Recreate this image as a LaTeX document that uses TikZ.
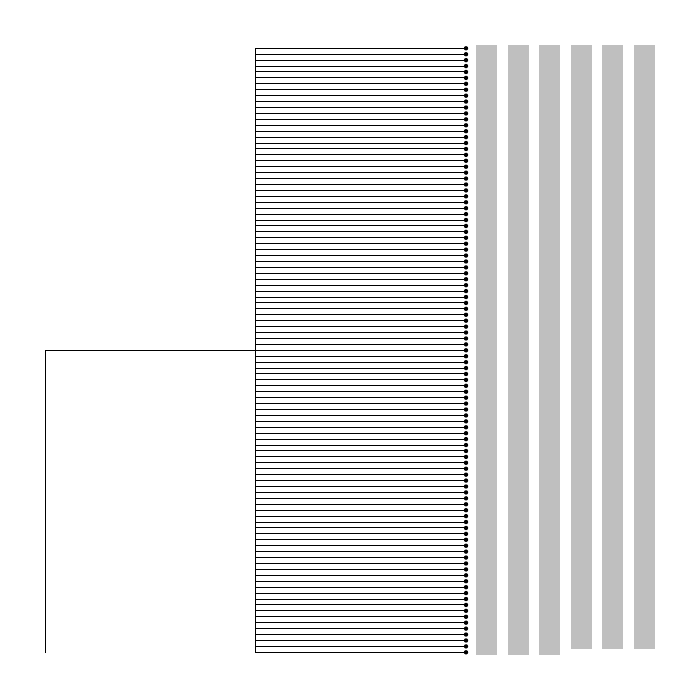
\documentclass[tikz,border=0pt]{standalone}
\definecolor{bargray}{RGB}{191,191,191}
\begin{document}
\begin{tikzpicture}[x=1pt,y=-1pt,
  edge/.style={draw=black,line width=1pt},
  leafdot/.style={circle,fill=black,inner sep=0pt,minimum size=4.4pt},
  bar/.style={fill=bargray,draw=none}]
\useasboundingbox (0,0) rectangle (700,700);
% bars
\fill[bar] (476,45) rectangle (497,654.7);
\fill[bar] (508,45) rectangle (529,654.7);
\fill[bar] (539,45) rectangle (560,654.7);
\fill[bar] (571,45) rectangle (592,648.7);
\fill[bar] (602,45) rectangle (623,648.7);
\fill[bar] (634,45) rectangle (655,648.7);
% tree
\coordinate (root) at (45.7,653);
\coordinate (hub) at (255.5,350.5);
\draw[edge] (root) |- (hub);
\foreach \i in {0,...,102}{
  \pgfmathsetmacro{\yy}{48.3+\i*5.92157}
  \node[leafdot] (l\i) at (466,\yy) {};
  \draw[edge] (hub) |- (l\i.center);
}
\end{tikzpicture}
\end{document}
